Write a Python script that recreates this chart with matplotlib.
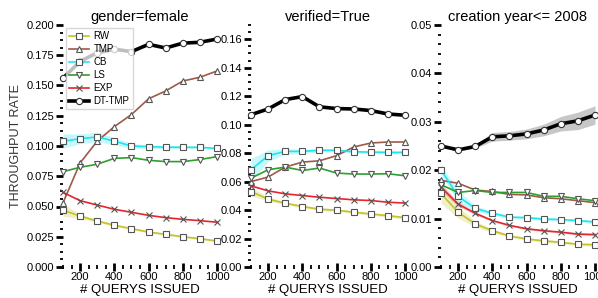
import numpy as np
import matplotlib
matplotlib.use("Agg")
import matplotlib.pyplot as plt
from matplotlib.ticker import MultipleLocator, FormatStrFormatter

plt.rcParams["font.family"] = ["Liberation Sans", "DejaVu Sans"]

# x axis: number of queries issued
queries = [100, 200, 300, 400, 500, 600, 700, 800, 900, 1000]
methods = ["RW", "TMP", "CB", "LS", "EXP", "DT-TMP"]

# panel 1: gender=female
female_rw = [0.047, 0.042, 0.038, 0.0345, 0.0317, 0.0289, 0.027, 0.025, 0.0234, 0.0215]
female_tmp = [0.053, 0.086, 0.104, 0.116, 0.126, 0.139, 0.1455, 0.1537, 0.1568, 0.162]
female_cb = [0.104, 0.106, 0.1075, 0.104, 0.100, 0.0995, 0.099, 0.099, 0.0989, 0.098]
female_ls = [0.0788, 0.0824, 0.0849, 0.0898, 0.0904, 0.0882, 0.0871, 0.0871, 0.0888, 0.0912]
female_exp = [0.0617, 0.0548, 0.0512, 0.0477, 0.0452, 0.0427, 0.0408, 0.0394, 0.0383, 0.037]
female_dt = [0.156, 0.170, 0.177, 0.180, 0.178, 0.184, 0.181, 0.185, 0.1857, 0.1884]

# panel 2: verified=True
verified_rw = [0.053, 0.0477, 0.0448, 0.0425, 0.0406, 0.0399, 0.0385, 0.0373, 0.036, 0.0347]
verified_tmp = [0.060, 0.0632, 0.0702, 0.0737, 0.0746, 0.0782, 0.0843, 0.0871, 0.0878, 0.0878]
verified_cb = [0.0683, 0.0782, 0.0812, 0.0812, 0.082, 0.082, 0.081, 0.0807, 0.0805, 0.0805]
verified_ls = [0.0624, 0.0683, 0.0702, 0.0678, 0.0695, 0.066, 0.0653, 0.0653, 0.0655, 0.0641]
verified_exp = [0.057, 0.0535, 0.0514, 0.0502, 0.049, 0.0481, 0.0472, 0.0467, 0.0455, 0.0449]
verified_dt = [0.107, 0.111, 0.1176, 0.1197, 0.1125, 0.1113, 0.111, 0.1099, 0.1075, 0.1066]

# panel 3: creation year<= 2008
year_rw = [0.0152, 0.0113, 0.0089, 0.0075, 0.0064, 0.0058, 0.0054, 0.0051, 0.0047, 0.0046]
year_tmp = [0.0179, 0.0173, 0.0159, 0.0156, 0.0150, 0.0149, 0.0143, 0.0141, 0.0137, 0.0133]
year_cb = [0.0201, 0.0146, 0.0121, 0.0111, 0.0103, 0.0102, 0.0099, 0.0098, 0.0096, 0.0093]
year_ls = [0.0170, 0.0154, 0.0158, 0.0154, 0.0154, 0.0154, 0.0146, 0.0146, 0.0141, 0.0137]
year_exp = [0.0165, 0.0130, 0.0111, 0.0096, 0.0086, 0.0079, 0.0075, 0.0072, 0.0068, 0.0067]
year_dt = [0.0250, 0.0242, 0.0249, 0.0269, 0.0271, 0.0275, 0.0283, 0.0296, 0.0302, 0.0314]

# half widths of the shaded bands
female_rw_err = [0.005, 0.002, 0.0012, 0.001, 0.001, 0.0008, 0.0008, 0.0008, 0.0008, 0.0008]
female_cb_err = [0.006, 0.004, 0.004, 0.003, 0.002, 0.0015, 0.0012, 0.001, 0.001, 0.001]
verified_rw_err = [0.003, 0.0015, 0.001, 0.001, 0.001, 0.001, 0.001, 0.001, 0.001, 0.001]
verified_cb_err = [0.008, 0.004, 0.002, 0.0015, 0.0012, 0.001, 0.001, 0.001, 0.001, 0.001]
year_rw_err = [0.002, 0.0012, 0.0006, 0.0004, 0.0003, 0.0003, 0.0003, 0.0003, 0.0003, 0.0003]
year_cb_err = [0.001, 0.0012, 0.0006, 0.0004, 0.0003, 0.0003, 0.0003, 0.0003, 0.0003, 0.0003]
year_exp_err = [0.0008, 0.0005, 0.0003, 0.0002, 0.0002, 0.0002, 0.0002, 0.0002, 0.0002, 0.0002]
year_dt_err = [0.0002, 0.0002, 0.0003, 0.0009, 0.0009, 0.001, 0.0012, 0.0015, 0.0018, 0.0019]

colors = {"RW": "#c3c32a", "TMP": "#9c5a48", "CB": "#1ee6f0", "LS": "#2ca02c",
          "EXP": "#e3262b", "DT-TMP": "black"}
markers = {"RW": "s", "TMP": "^", "CB": "s", "LS": "v", "EXP": "x", "DT-TMP": "o"}

panels = [
    ("gender=female", [female_rw, female_tmp, female_cb, female_ls, female_exp, female_dt],
     {"RW": female_rw_err, "CB": female_cb_err}, 0.2, 0.025, 0.00625, "%.3f"),
    ("verified=True", [verified_rw, verified_tmp, verified_cb, verified_ls, verified_exp, verified_dt],
     {"RW": verified_rw_err, "CB": verified_cb_err}, 0.170, 0.02, 0.005, "%.2f"),
    ("creation year<= 2008", [year_rw, year_tmp, year_cb, year_ls, year_exp, year_dt],
     {"RW": year_rw_err, "CB": year_cb_err, "EXP": year_exp_err, "DT-TMP": year_dt_err},
     0.05, 0.01, 0.002, "%.2f"),
]

fig = plt.figure(figsize=(5.98, 2.98), dpi=100)
lefts = [63 / 598, 251 / 598, 441 / 598]
width = 154 / 598
bottom = 31 / 298
height = 242 / 298

for k, (title, series, bands, ytop, ymaj, ymin, fmt) in enumerate(panels):
    ax = fig.add_axes([lefts[k], bottom, width, height])
    ax.patch.set_alpha(0)
    for name, vals in zip(methods, series):
        vals = np.array(vals)
        if name in bands:
            err = np.array(bands[name])
            fc = "#999999" if name == "DT-TMP" else colors[name]
            a = 0.55 if name == "DT-TMP" else 0.25
            ax.fill_between(queries, vals - err, vals + err, color=fc, alpha=a, lw=0)
        dt = name == "DT-TMP"
        ax.plot(queries, vals, color=colors[name], lw=2.6 if dt else 1.2,
                marker=markers[name], ms=4.5,
                mfc="white" if name != "EXP" else colors[name],
                mec="#555555" if not dt else "#333333", mew=0.8,
                label=name, clip_on=False, zorder=5 if dt else 3)
    ax.set_xlim(100, 1000)
    ax.set_ylim(0, ytop)
    for s in ax.spines.values():
        s.set_visible(False)
    ax.xaxis.set_major_locator(MultipleLocator(200))
    ax.xaxis.set_minor_locator(MultipleLocator(50))
    ax.yaxis.set_major_locator(MultipleLocator(ymaj))
    ax.yaxis.set_minor_locator(MultipleLocator(ymin))
    ax.yaxis.set_major_formatter(FormatStrFormatter(fmt))
    ax.tick_params(axis="y", which="major", direction="out", length=5, width=2,
                   labelsize=8, pad=1.5)
    ax.tick_params(axis="y", which="minor", direction="out", length=2.5, width=1.3)
    ax.tick_params(axis="x", which="major", direction="inout", length=6, width=2,
                   labelsize=8, pad=0.5)
    ax.tick_params(axis="x", which="minor", direction="inout", length=3, width=1.3)
    ax.set_title(title, fontsize=10.5, pad=3)
    ax.set_xlabel("# QUERYS ISSUED", fontsize=9.5, labelpad=1.5)
    if k == 0:
        ax.set_ylabel("THROUGHPUT RATE", fontsize=9, color="#333333", labelpad=3)
        leg = ax.legend(loc="upper left", bbox_to_anchor=(0.0, 1.0), fontsize=7,
                        frameon=True, framealpha=0.75, edgecolor="#cccccc",
                        fancybox=False, handlelength=2.0, handletextpad=0.5,
                        labelspacing=0.3, borderpad=0.35, borderaxespad=0.3)
        leg.set_zorder(10)

fig.savefig("out.png", dpi=100)
